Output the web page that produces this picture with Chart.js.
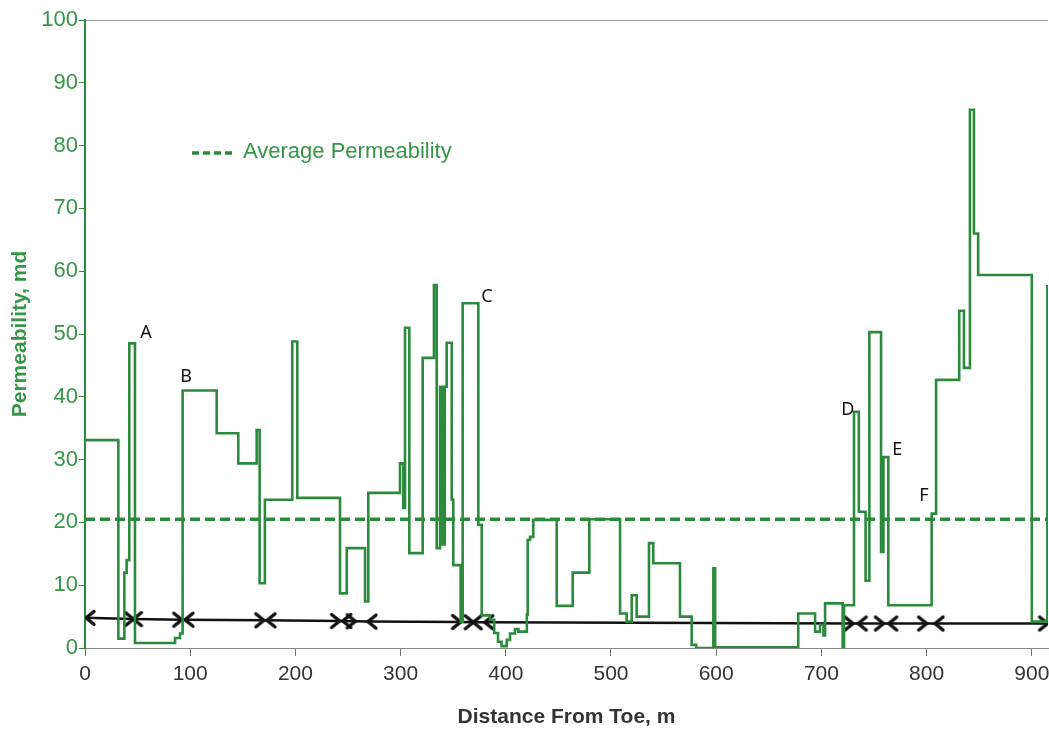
<!DOCTYPE html>
<html>
<head>
<meta charset="utf-8">
<script src="https://cdn.jsdelivr.net/npm/chart.js@4.4.0/dist/chart.umd.min.js"></script>
<style>
  html, body { margin: 0; padding: 0; background: #fff; overflow: hidden; }
  #wrap { width: 1049px; height: 733px; overflow: hidden; }
</style>
</head>
<body>
<div id="wrap"><canvas id="myChart" width="1055" height="733"></canvas></div>
<script>
// distance from toe (m) where each permeability level starts
const distance = [0, 31.7, 37.4, 39.6, 42.1, 47.5, 85.6, 90.3, 92.8, 125.2, 145.7,
  163.2, 166, 171, 197, 201.8, 242.4, 248.8, 266.2, 269.3, 299.4,
  302.6, 304.2, 308.3, 321, 331.7, 334.3, 337.5, 340, 342, 343.8,
  348.6, 350.1, 357.1, 359, 373.9, 377.1, 385, 389, 392.6, 396,
  400.9, 404, 408.7, 412, 420, 420.8, 423, 426.1, 448.4, 463.6,
  479.4, 508.6, 514.9, 519.7, 524.4, 536.1, 540.2, 565.6, 576.7, 581,
  597.3, 599, 678, 694, 698.7, 702, 703.5, 720.2, 721.5, 731,
  735.6, 742, 745.6, 756.7, 759, 763.6, 804.8, 809, 831, 835.5,
  841.2, 845, 849, 900, 914.8, 915.4];
// permeability (md)
const permeability = [33.1, 1.5, 12.0, 14.0, 48.5, 0.8, 1.6, 2.3, 41.0, 34.2, 29.4,
  34.7, 10.3, 23.6, 48.8, 23.9, 8.7, 15.9, 7.4, 24.7, 29.4,
  22.3, 51.0, 15.1, 46.2, 57.8, 15.9, 41.6, 16.5, 41.6, 48.6,
  23.6, 13.2, 4.2, 54.9, 19.6, 5.2, 4.5, 2.4, 1.0, 0.3,
  1.3, 2.3, 3.0, 2.6, 5.3, 17.2, 17.7, 20.4, 6.7, 12.0,
  20.5, 5.5, 4.2, 8.4, 5.0, 16.7, 13.5, 5.0, 0.5, 0.0,
  12.7, 0.1, 5.5, 2.6, 3.7, 2.0, 7.1, 0.0, 6.8, 37.6,
  21.7, 10.7, 50.3, 15.3, 30.4, 6.8, 21.4, 42.7, 53.7, 44.6,
  85.7, 66.0, 59.4, 4.2, 57.6, 57.6];

const averagePermeability = 20.5;
const xMax = 915.4;
const xTicks = [0, 100, 200, 300, 400, 500, 600, 700, 800, 900];

// interval arrows along the lateral
const arrowLineX = [0, 46, 92, 170, 242, 257, 269, 357, 369, 380, 730, 759, 800, 915];
const arrowLineY = [4.8, 4.6, 4.5, 4.4, 4.3, 4.25, 4.2, 4.15, 4.1, 4.1, 3.9, 3.9, 3.9, 3.9];
const leftHeadX = [1, 46, 95, 173, 245, 269, 369, 380, 735, 764, 808];
const leftHeadY = [4.8, 4.6, 4.5, 4.4, 4.3, 4.2, 4.1, 4.1, 3.9, 3.9, 3.9];
const rightHeadX = [46, 92, 170, 242, 257, 357, 369, 730, 759, 800, 915];
const rightHeadY = [4.6, 4.5, 4.4, 4.3, 4.25, 4.15, 4.1, 3.9, 3.9, 3.9, 3.9];

const letterLabels = ['A', 'B', 'C', 'D', 'E', 'F'];
const letterX = [58, 96, 382, 725, 772, 797.5];
const letterY = [50.2, 43.2, 55.9, 37.9, 31.5, 24.2];

const green = '#2c8a3c';
const labelGreen = '#369648';
const sans = '"Liberation Sans", Arial, sans-serif';

const toPoints = (xs, ys) => xs.map((x, i) => ({ x: x, y: ys[i] }));

const makeHead = (dir) => {
  const c = document.createElement('canvas');
  c.width = 24;
  c.height = 20;
  const g = c.getContext('2d');
  g.strokeStyle = '#111';
  g.lineWidth = 3.4;
  g.lineCap = 'round';
  g.beginPath();
  g.moveTo(12 - dir * 8, 3.5);
  g.lineTo(12, 10);
  g.lineTo(12 - dir * 8, 16.5);
  g.stroke();
  return c;
};

const legendPlugin = {
  id: 'avgLegend',
  afterDraw(chart) {
    const { ctx, chartArea } = chart;
    const x0 = chartArea.left + 107;
    const y0 = chartArea.top + 133;
    ctx.save();
    ctx.strokeStyle = green;
    ctx.lineWidth = 3.5;
    ctx.setLineDash([7, 4]);
    ctx.beginPath();
    ctx.moveTo(x0, y0);
    ctx.lineTo(x0 + 44, y0);
    ctx.stroke();
    ctx.setLineDash([]);
    ctx.fillStyle = labelGreen;
    ctx.font = '22px ' + sans;
    ctx.textBaseline = 'middle';
    ctx.fillText('Average Permeability', x0 + 51, y0 - 1);
    ctx.restore();
  },
};

const letterPlugin = {
  id: 'letters',
  afterDatasetsDraw(chart) {
    const { ctx, scales } = chart;
    ctx.save();
    ctx.fillStyle = '#111';
    ctx.font = '18px "Noto Sans", sans-serif';
    ctx.textAlign = 'center';
    ctx.textBaseline = 'middle';
    letterLabels.forEach((t, i) => {
      ctx.fillText(t, scales.x.getPixelForValue(letterX[i]), scales.y.getPixelForValue(letterY[i]));
    });
    ctx.restore();
  },
};

const ctx = document.getElementById('myChart').getContext('2d');
const myChart = new Chart(ctx, {
  type: 'line',
  data: {
    datasets: [
      {
        label: 'Permeability',
        data: toPoints(distance, permeability),
        stepped: true,
        borderColor: green,
        borderWidth: 2.6,
        pointRadius: 0,
        fill: false,
      },
      {
        label: 'Average Permeability',
        data: [{ x: 0, y: averagePermeability }, { x: xMax, y: averagePermeability }],
        borderColor: green,
        borderWidth: 3.5,
        borderDash: [10, 5],
        pointRadius: 0,
      },
      {
        label: 'intervals',
        data: toPoints(arrowLineX, arrowLineY),
        borderColor: '#111',
        borderWidth: 2.5,
        pointRadius: 0,
      },
      {
        label: 'left heads',
        data: toPoints(leftHeadX, leftHeadY),
        showLine: false,
        pointStyle: makeHead(-1),
        pointRadius: 6,
      },
      {
        label: 'right heads',
        data: toPoints(rightHeadX, rightHeadY),
        showLine: false,
        pointStyle: makeHead(1),
        pointRadius: 6,
      },
    ],
  },
  options: {
    responsive: false,
    animation: false,
    layout: { padding: { top: 20, right: 0 } },
    plugins: {
      legend: { display: false },
      tooltip: { enabled: false },
    },
    scales: {
      x: {
        type: 'linear',
        min: 0,
        max: xMax,
        afterBuildTicks: (scale) => {
          scale.ticks = xTicks.map((v) => ({ value: v }));
        },
        afterFit: (scale) => {
          scale.height = 85;
        },
        ticks: {
          autoSkip: false,
          color: '#333',
          font: { size: 21, family: sans },
          padding: 0,
          maxRotation: 0,
        },
        // long tick slot keeps the labels low, the dash shows only the short mark
        grid: { drawOnChartArea: false, tickColor: '#777', tickLength: 14, tickBorderDash: [7, 40] },
        border: { color: '#888', width: 1 },
        title: {
          display: true,
          text: 'Distance From Toe, m',
          color: '#333',
          font: { size: 21, weight: 'bold', family: sans },
          padding: { bottom: 3 },
        },
      },
      y: {
        min: 0,
        max: 100,
        afterFit: (scale) => {
          scale.width = 85;
        },
        ticks: {
          stepSize: 10,
          color: labelGreen,
          font: { size: 22, family: sans },
          padding: 1,
        },
        grid: {
          color: (c) => (c.tick && c.tick.value === 100 ? '#9a9a9a' : 'rgba(0,0,0,0)'),
          tickColor: green,
          tickLength: 6,
        },
        border: { color: green, width: 2 },
        title: {
          display: true,
          text: 'Permeability, md',
          color: labelGreen,
          font: { size: 21, weight: 'bold', family: sans },
          padding: { top: 8 },
        },
      },
    },
  },
  plugins: [legendPlugin, letterPlugin],
});
</script>
</body>
</html>
